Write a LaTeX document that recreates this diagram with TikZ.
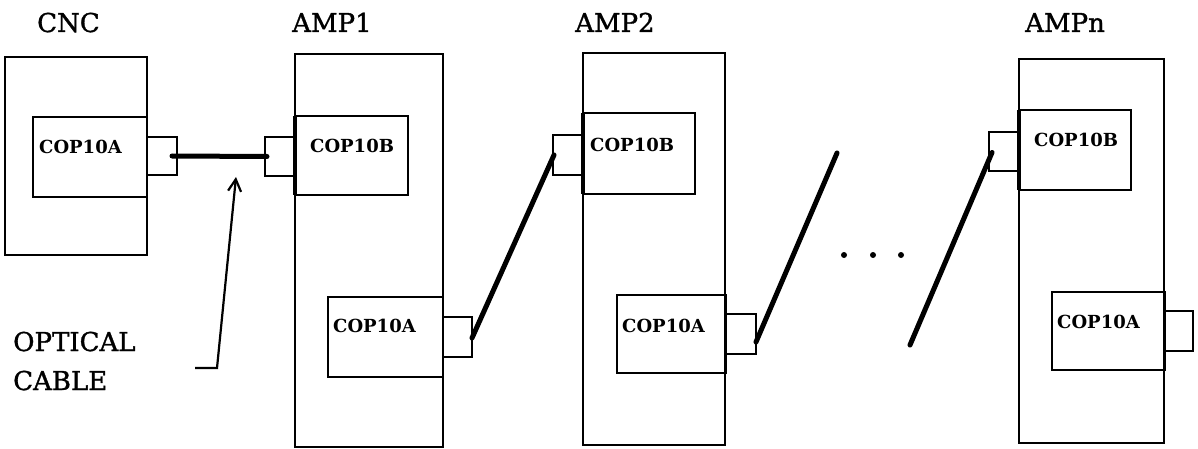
\documentclass[tikz,border=0pt]{standalone}
\usepackage{fontspec}
\setmainfont{DejaVu Serif}
\newfontfamily\titlefont[FakeBold=1.2]{DejaVu Serif}
\usetikzlibrary{arrows.meta,calc}
\begin{document}
\begin{tikzpicture}[x=1pt,y=-1pt,
  box/.style={draw,line width=2.2pt,inner sep=0pt,outer sep=0pt,anchor=north west},
  cable/.style={line width=5pt,line cap=round},
  title/.style={anchor=base west,inner sep=0pt,font=\titlefont\fontsize{26}{30}\selectfont},
  boardtext/.style={anchor=base west,inner sep=0pt,font=\fontsize{18}{22}\selectfont\bfseries},
  thickedge/.style={line width=3.6pt},
  dotmark/.style={fill=black}]
\useasboundingbox (0,0) rectangle (1198,449);

% CNC
\node[box,minimum width=142pt,minimum height=198pt] (cnc) at (5,57) {};
\node[box,minimum width=114pt,minimum height=80pt] (cncA) at (33,117) {};
\node[box,minimum width=30pt,minimum height=38pt] (cncAp) at (147,137) {};
% AMP1
\node[box,minimum width=148pt,minimum height=393pt] (amp1) at (295,54) {};
\node[box,minimum width=113pt,minimum height=79pt] (amp1B) at (295,116) {};
\node[box,minimum width=30pt,minimum height=39pt] (amp1Bp) at (265,137) {};
\node[box,minimum width=115pt,minimum height=80pt] (amp1A) at (328,297) {};
\node[box,minimum width=29pt,minimum height=40pt] (amp1Ap) at (443,317) {};
% AMP2
\node[box,minimum width=142pt,minimum height=392pt] (amp2) at (583,53) {};
\node[box,minimum width=112pt,minimum height=81pt] (amp2B) at (583,113) {};
\node[box,minimum width=30pt,minimum height=40pt] (amp2Bp) at (553,135) {};
\node[box,minimum width=109pt,minimum height=78pt] (amp2A) at (617,295) {};
\node[box,minimum width=30pt,minimum height=40pt] (amp2Ap) at (726,314) {};
% AMPn
\node[box,minimum width=145pt,minimum height=384pt] (ampn) at (1019,59) {};
\node[box,minimum width=112pt,minimum height=80pt] (ampnB) at (1019,110) {};
\node[box,minimum width=30pt,minimum height=39pt] (ampnBp) at (989,132) {};
\node[box,minimum width=113pt,minimum height=78pt] (ampnA) at (1052,292) {};
\node[box,minimum width=28pt,minimum height=40pt] (ampnAp) at (1165,311) {};

% thick left edges of COP10B
\draw[thickedge] (amp1B.north west) -- (amp1B.south west);
\draw[thickedge] (amp2B.north west) -- (amp2B.south west);
\draw[thickedge] (ampnB.north west) -- (ampnB.south west);

% titles
\node[title] (tcnc) at (37,32) {CNC};
\node[title] (tamp1) at (292,32) {AMP1};
\node[title] (tamp2) at (575,32) {AMP2};
\node[title] (tampn) at (1025,32) {AMPn};
\node[title] (topt) at (13,351) {OPTICAL};
\node[title] (tcab) at (13,390) {CABLE};

% board labels
\node[boardtext] (lcncA) at (39,154) {COP10A};
\node[boardtext] (l1B) at (310,153) {COP10B};
\node[boardtext] (l1A) at (333,332) {COP10A};
\node[boardtext] (l2B) at (590,152) {COP10B};
\node[boardtext] (l2A) at (622,332) {COP10A};
\node[boardtext] (lnB) at (1034,147) {COP10B};
\node[boardtext] (lnA) at (1057,328) {COP10A};

% cables
\draw[cable] ($(cncAp.east)+(-5,0)$) -- ($(amp1Bp.west)+(2,0)$);
\draw[cable] ($(amp1Ap.east)+(0,1)$) -- ($(amp2Bp.west)+(1,0)$);
\coordinate (freeA) at (837,153);
\draw[cable] ($(amp2Ap.east)+(0,8)$) -- (freeA);
\coordinate (freeB) at (910,345);
\draw[cable] (freeB) -- ($(ampnBp.west)+(3,1)$);

% optical cable pointer
\coordinate (pfoot) at (195,368);
\coordinate (pbend) at (217,368);
\coordinate (ptip) at (236,177);
\draw[line width=2.2pt,-{Straight Barb[length=12pt,width=13pt,line width=2.2pt]}] (pfoot) -- (pbend) -- (ptip);

% ellipsis dots
\fill[dotmark] (844,255) circle (3);
\fill[dotmark] (873,255) circle (3);
\fill[dotmark] (901,255) circle (3);
\end{tikzpicture}
\end{document}
